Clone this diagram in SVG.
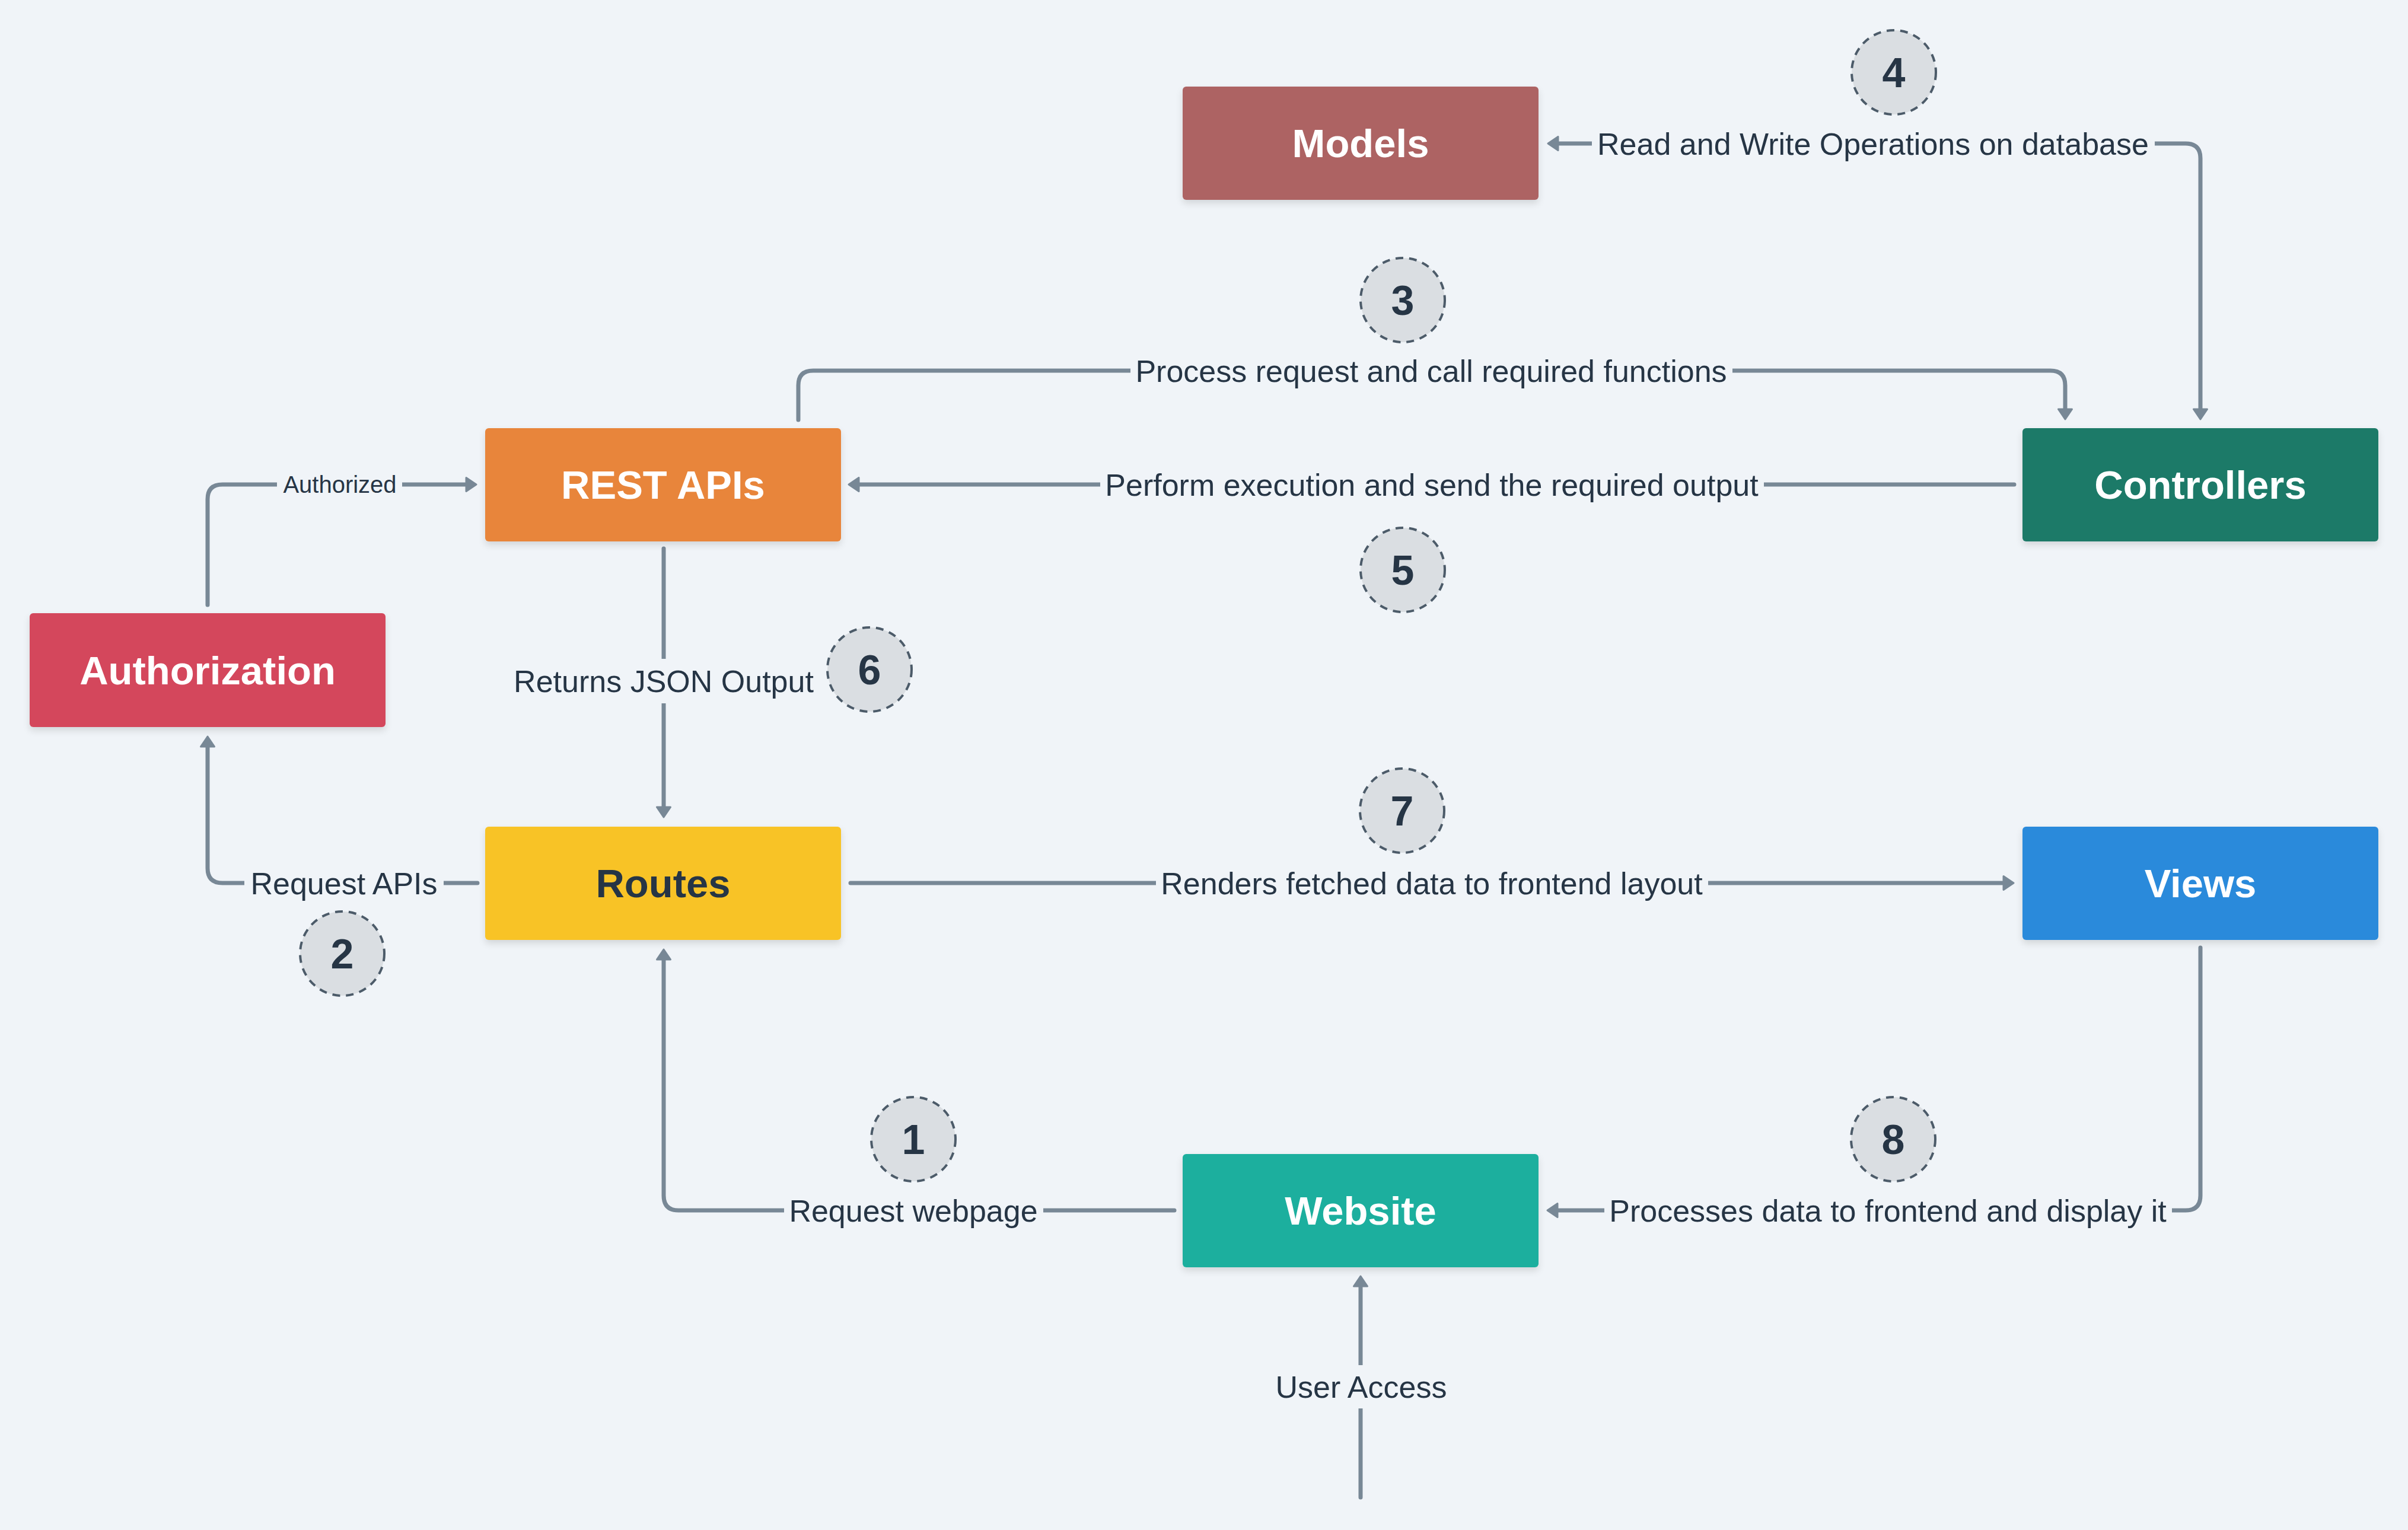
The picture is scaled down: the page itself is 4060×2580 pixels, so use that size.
<svg xmlns="http://www.w3.org/2000/svg" width="4060" height="2580" viewBox="0 0 4060 2580">
  <defs>
    <style>
      .bg { fill: #F0F4F8; }
      .node rect { stroke: none; }
      .ntext { font-family: "Liberation Sans", Arial, sans-serif; font-weight: bold; font-size: 67px; fill: #FFFFFF; text-anchor: middle; }
      .ntext.dark { fill: #263545; }
      .conn { fill: none; stroke: #788896; stroke-width: 7; stroke-linecap: round; stroke-linejoin: round; }
      .arrow { marker-end: url(#ah); }
      .gap { fill: #F0F4F8; }
      .lbl { font-family: "Liberation Sans", Arial, sans-serif; font-size: 52px; fill: #263545; text-anchor: middle; }
      .lbl.small { font-size: 40px; }
      .badge circle { fill: #DADEE2; stroke: #4C5B69; stroke-width: 4; stroke-dasharray: 13 10; }
      .badge text { font-family: "Liberation Sans", Arial, sans-serif; font-weight: bold; font-size: 70px; fill: #263545; text-anchor: middle; }
    </style>
    <filter id="sh" x="-10%" y="-10%" width="120%" height="130%">
      <feDropShadow dx="0" dy="6" stdDeviation="6" flood-color="#000000" flood-opacity="0.12"/>
    </filter>
    <marker id="ah" viewBox="0 0 21 27" refX="2" refY="13.5" markerWidth="21" markerHeight="27" markerUnits="userSpaceOnUse" orient="auto-start-reverse">
      <path d="M2,2 L19,13.5 L2,25 Z" fill="#788896" stroke="#788896" stroke-width="3" stroke-linejoin="round"/>
    </marker>
  </defs>

  <rect class="bg" x="0" y="0" width="4060" height="2580"/>

  <g id="connectors">
    <!-- Models <-> Controllers -->
    <path class="conn" d="M 2627,242 H 3685 Q 3710,242 3710,267 V 690" marker-start="url(#ah)" marker-end="url(#ah)"/>
    <!-- REST -> Controllers -->
    <path class="conn arrow" d="M 1346,708 V 650 Q 1346,625 1371,625 H 3457 Q 3482,625 3482,650 V 690"/>
    <!-- Controllers -> REST -->
    <path class="conn arrow" d="M 3396,817 H 1448"/>
    <!-- Authorization -> REST -->
    <path class="conn arrow" d="M 350,1020 V 842 Q 350,817 375,817 H 786"/>
    <!-- REST -> Routes -->
    <path class="conn arrow" d="M 1119,925 V 1361"/>
    <!-- Routes -> Authorization -->
    <path class="conn arrow" d="M 805,1489 H 375 Q 350,1489 350,1464 V 1259"/>
    <!-- Routes -> Views -->
    <path class="conn arrow" d="M 1434,1489 H 3378"/>
    <!-- Website -> Routes -->
    <path class="conn arrow" d="M 1980,2041 H 1144 Q 1119,2041 1119,2016 V 1618"/>
    <!-- Views -> Website -->
    <path class="conn arrow" d="M 3710,1598 V 2016 Q 3710,2041 3685,2041 H 2626"/>
    <!-- User Access -> Website -->
    <path class="conn arrow" d="M 2294,2525 V 2169"/>

    <!-- label gaps -->
    <rect class="gap" x="2684" y="232" width="949" height="20"/>
    <rect class="gap" x="1906" y="615" width="1015" height="20"/>
    <rect class="gap" x="1855" y="807" width="1119" height="20"/>
    <rect class="gap" x="467" y="807" width="211" height="20"/>
    <rect class="gap" x="1105" y="1111" width="28" height="75"/>
    <rect class="gap" x="412" y="1479" width="336" height="20"/>
    <rect class="gap" x="1949" y="1479" width="931" height="20"/>
    <rect class="gap" x="1322" y="2031" width="437" height="20"/>
    <rect class="gap" x="2705" y="2031" width="957" height="20"/>
    <rect class="gap" x="2280" y="2302" width="28" height="73"/>

    <!-- labels -->
    <text class="lbl" x="3158" y="261">Read and Write Operations on database</text>
    <text class="lbl" x="2413" y="644">Process request and call required functions</text>
    <text class="lbl" x="2414" y="836">Perform execution and send the required output</text>
    <text class="lbl small" x="573" y="831">Authorized</text>
    <text class="lbl" x="1119" y="1167">Returns JSON Output</text>
    <text class="lbl" x="580" y="1508">Request APIs</text>
    <text class="lbl" x="2414" y="1508">Renders fetched data to frontend layout</text>
    <text class="lbl" x="1540" y="2060">Request webpage</text>
    <text class="lbl" x="3183" y="2060">Processes data to frontend and display it</text>
    <text class="lbl" x="2295" y="2357">User Access</text>
  </g>

  <g id="node-models" class="node">
    <rect x="1994" y="146" width="600" height="191" rx="6" fill="#AD6363" filter="url(#sh)"/>
    <text class="ntext" x="2294" y="265">Models</text>
  </g>
  <g id="node-rest" class="node">
    <rect x="818" y="722" width="600" height="191" rx="6" fill="#E8853A" filter="url(#sh)"/>
    <text class="ntext" x="1118" y="841">REST APIs</text>
  </g>
  <g id="node-controllers" class="node">
    <rect x="3410" y="722" width="600" height="191" rx="6" fill="#1F7A68" filter="url(#sh)"/>
    <text class="ntext" x="3710" y="841">Controllers</text>
  </g>
  <g id="node-authorization" class="node">
    <rect x="50" y="1034" width="600" height="192" rx="6" fill="#D4465C" filter="url(#sh)"/>
    <text class="ntext" x="350" y="1154">Authorization</text>
  </g>
  <g id="node-routes" class="node">
    <rect x="818" y="1394" width="600" height="191" rx="6" fill="#F8C327" filter="url(#sh)"/>
    <text class="ntext dark" x="1118" y="1513">Routes</text>
  </g>
  <g id="node-views" class="node">
    <rect x="3410" y="1394" width="600" height="191" rx="6" fill="#2C8ADB" filter="url(#sh)"/>
    <text class="ntext" x="3710" y="1513">Views</text>
  </g>
  <g id="node-website" class="node">
    <rect x="1994" y="1946" width="600" height="191" rx="6" fill="#1BAF9E" filter="url(#sh)"/>
    <text class="ntext" x="2294" y="2065">Website</text>
  </g>

  <g id="badge-1" class="badge"><circle cx="1540" cy="1921" r="71"/><text x="1540" y="1946">1</text></g>
  <g id="badge-2" class="badge"><circle cx="577" cy="1608" r="71"/><text x="577" y="1633">2</text></g>
  <g id="badge-3" class="badge"><circle cx="2365" cy="506" r="71"/><text x="2365" y="531">3</text></g>
  <g id="badge-4" class="badge"><circle cx="3193" cy="122" r="71"/><text x="3193" y="147">4</text></g>
  <g id="badge-5" class="badge"><circle cx="2365" cy="961" r="71"/><text x="2365" y="986">5</text></g>
  <g id="badge-6" class="badge"><circle cx="1466" cy="1129" r="71"/><text x="1466" y="1154">6</text></g>
  <g id="badge-7" class="badge"><circle cx="2364" cy="1367" r="71"/><text x="2364" y="1392">7</text></g>
  <g id="badge-8" class="badge"><circle cx="3192" cy="1921" r="71"/><text x="3192" y="1946">8</text></g>
</svg>
